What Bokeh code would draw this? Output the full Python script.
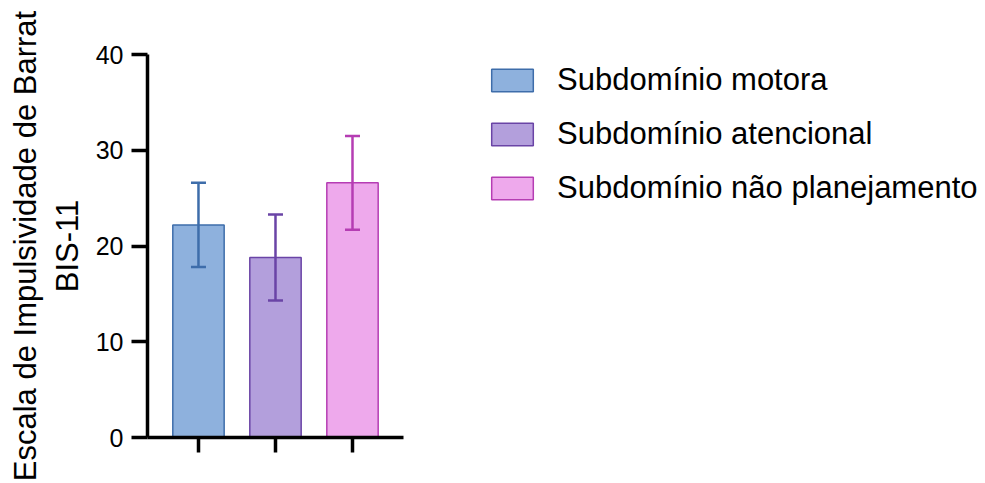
from bokeh.plotting import figure
from bokeh.models import (ColumnDataSource, Range1d, FixedTicker, Legend, LegendItem)
from bokeh.embed import file_html
from bokeh.resources import INLINE

# Barratt Impulsiveness Scale (BIS-11) subdomain scores: mean and SD
categories = ["Subdomínio motora", "Subdomínio atencional", "Subdomínio não planejamento"]
means = [22.2, 18.8, 26.6]
sds = [4.4, 4.5, 4.9]
positions = [1, 2, 3]
y_ticks = [0, 10, 20, 30, 40]

fill_colors = ["#8EB1DD", "#B39FDC", "#EEA9EC"]
line_colors = ["#3E6DAA", "#6A44A6", "#B53DB3"]

FONT = "Liberation Sans"

src = ColumnDataSource(dict(
    x=positions,
    top=means,
    upper=[m + s for m, s in zip(means, sds)],
    lower=[m - s for m, s in zip(means, sds)],
    label=categories,
    fill=fill_colors,
    line=line_colors,
))

# the frame runs to the right edge so the legend can sit beside the bars;
# the x axis line is limited to the bar region with axis.bounds
x_lo, x_hi = 0.338, 3.662
p = figure(width=985, height=483, output_backend="svg", toolbar_location=None,
           x_range=Range1d(x_lo, 11.22), y_range=Range1d(0, 40),
           min_border_left=147, min_border_right=0,
           min_border_top=54, min_border_bottom=46)
p.outline_line_color = None
p.xgrid.visible = False
p.ygrid.visible = False
p.background_fill_color = "white"
p.border_fill_color = "white"

bars = p.vbar(x="x", top="top", width=0.667, bottom=0, source=src,
              fill_color="fill", line_color="line", line_width=1.5)

# error bars: stem plus caps
p.segment(x0="x", y0="lower", x1="x", y1="upper", source=src,
          line_color="line", line_width=2.5)
p.scatter(x="x", y="upper", source=src, marker="dash", size=15,
          line_color="line", line_width=2.5)
p.scatter(x="x", y="lower", source=src, marker="dash", size=15,
          line_color="line", line_width=2.5)

# axes
for ax in (p.xaxis[0], p.yaxis[0]):
    ax.axis_line_width = 3.5
    ax.axis_line_color = "black"
    ax.major_tick_line_width = 3.5
    ax.major_tick_line_color = "black"
    ax.major_tick_in = 0
    ax.minor_tick_line_color = None

p.xaxis.bounds = (x_lo, x_hi)
p.xaxis.ticker = FixedTicker(ticks=positions)
p.xaxis.major_tick_out = 15
p.xaxis.major_label_overrides = {pos: "" for pos in positions}

p.yaxis.ticker = FixedTicker(ticks=y_ticks)
p.yaxis.major_tick_out = 16
p.yaxis.major_label_standoff = 8
p.yaxis.major_label_text_font = FONT
p.yaxis.major_label_text_font_size = "25px"
p.yaxis.major_label_text_color = "black"
p.yaxis.axis_label = "Escala de Impulsividade de Barrat\nBIS-11"
p.yaxis.axis_label_text_font = FONT
p.yaxis.axis_label_text_font_size = "31px"
p.yaxis.axis_label_text_font_style = "normal"
p.yaxis.axis_label_text_color = "black"
p.yaxis.axis_label_standoff = 8

legend = Legend(
    items=[LegendItem(label=c, renderers=[bars], index=i) for i, c in enumerate(categories)],
    location=(339, 231),
    orientation="vertical",
    glyph_width=52, glyph_height=28, label_height=28,
    label_standoff=19, spacing=18, padding=0, margin=0,
    label_text_font=FONT, label_text_font_size="31px", label_text_color="black",
    background_fill_alpha=0, border_line_color=None,
)
p.add_layout(legend, "center")

open("out.html", "w").write(file_html(p, INLINE))
